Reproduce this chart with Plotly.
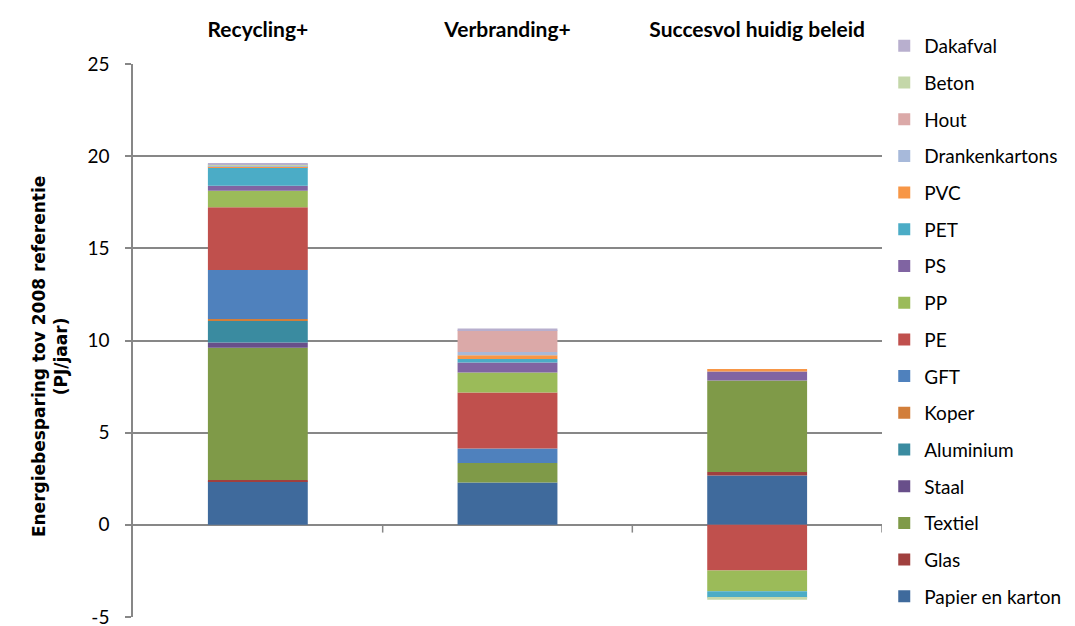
import plotly.graph_objects as go

scenarios = ["Recycling+", "Verbranding+", "Succesvol huidig beleid"]

series_names = ["Papier en karton", "Glas", "Textiel", "Staal", "Aluminium", "Koper",
                "GFT", "PE", "PP", "PS", "PET", "PVC", "Drankenkartons", "Hout",
                "Beton", "Dakafval"]

papier = [2.35, 2.30, 2.67]
glas = [0.08, 0.0, 0.20]
textiel = [7.18, 1.06, 4.96]
staal = [0.28, 0.0, 0.0]
aluminium = [1.17, 0.0, 0.0]
koper = [0.11, 0.0, 0.0]
gft = [2.66, 0.78, 0.0]
pe = [3.40, 3.04, -2.48]
pp = [0.90, 1.08, -1.12]
ps = [0.27, 0.54, 0.49]
pet = [1.00, 0.20, -0.36]
pvc = [0.03, 0.20, 0.13]
drankenkartons = [0.05, 0.18, 0.0]
hout = [0.0, 1.17, 0.0]
beton = [0.08, 0.0, -0.10]
dakafval = [0.02, 0.10, 0.0]

series_values = [papier, glas, textiel, staal, aluminium, koper, gft, pe, pp, ps,
                 pet, pvc, drankenkartons, hout, beton, dakafval]

colors = ["#3F6A9C", "#A0403E", "#7F9A48", "#684F8A", "#3A8BA0", "#D27E3A",
          "#4F81BD", "#C0504D", "#9BBB59", "#8064A2", "#4BACC6", "#F79646",
          "#A7B9DA", "#DBA9A8", "#C4D7A9", "#B8AFCE"]

y_ticks = [-5, 0, 5, 10, 15, 20, 25]
y_tick_labels = ["-5", "0", "5", "10", "15", "20", "25"]

y_title = "Energiebesparing tov 2008 referentie<br>(PJ/jaar)"

font_family = "Lato, 'Open Sans', sans-serif"

fig = go.Figure()
n = len(series_names)
for i, (name, vals, col) in enumerate(zip(series_names, series_values, colors)):
    fig.add_trace(go.Bar(
        x=scenarios, y=vals, name=name,
        marker=dict(color=col, line=dict(width=0)),
        legendgroup=name, legendrank=n - i,
    ))

# tick marks on the zero-line between categories
for xv in [0.5, 1.5, 2.5]:
    fig.add_shape(type="line", xref="x", yref="y", x0=xv, x1=xv, y0=0, y1=-0.42,
                  line=dict(color="#878787", width=1.5))

fig.add_annotation(
    text="<b>" + y_title + "</b>", xref="paper", yref="paper",
    x=-0.1108, y=0.47, xanchor="center", yanchor="middle", textangle=-90,
    showarrow=False, font=dict(family="'DejaVu Sans', sans-serif", size=17, color="black"),
)

fig.update_layout(
    barmode="relative",
    bargap=0.6,
    width=1067, height=626,
    margin=dict(l=125, r=193, t=56, b=17, autoexpand=False),
    plot_bgcolor="white", paper_bgcolor="white",
    font=dict(family=font_family, size=19, color="black"),
    showlegend=True,
    legend=dict(traceorder="grouped", x=1.003, xanchor="left",
                y=1.067, yanchor="top", maxheight=1,
                font=dict(size=19), tracegroupgap=9, itemwidth=30,
                bgcolor="rgba(0,0,0,0)"),
    xaxis=dict(side="top", range=[-0.5, 2.5], showgrid=False, showline=False,
               ticks="", ticklabelstandoff=22,
               tickfont=dict(size=21, family=font_family, weight="bold")),
    yaxis=dict(range=[-5, 25], tickvals=y_ticks, ticktext=y_tick_labels,
               showgrid=True, gridcolor="#878787",
               gridwidth=1.5, zeroline=True, zerolinecolor="#878787", zerolinewidth=1.5,
               showline=True, linecolor="#878787", linewidth=1.5,
               ticks="outside", ticklen=6, tickcolor="#878787", tickwidth=1.5,
               ticklabelstandoff=12, ticklabeloverflow="allow",
               tickfont=dict(size=19)),
)

fig.write_html("out.html")
